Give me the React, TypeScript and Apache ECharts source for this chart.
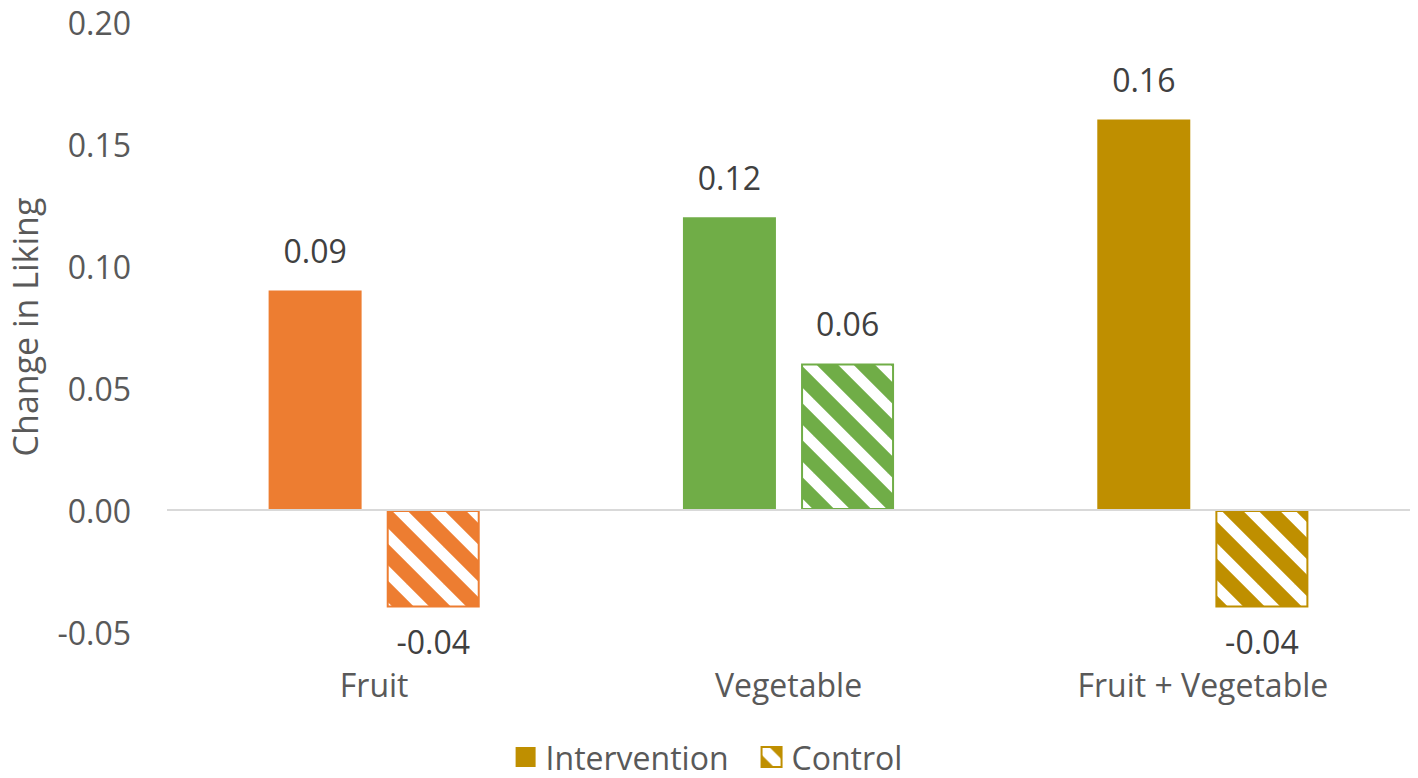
import React, { useEffect, useRef } from "react";
import * as echarts from "echarts";

const categories = ["Fruit", "Vegetable", "Fruit + Vegetable"];
const seriesNames = ["Intervention", "Control"];
const interventionValues = [0.09, 0.12, 0.16];
const controlValues = [-0.04, 0.06, -0.04];
const categoryColors = ["#ED7D31", "#70AD47", "#BF8F00"];
const legendColor = "#BF8F00";

const FONT = "'Open Sans', 'Noto Sans', sans-serif";

function hatch(color: string) {
  const P = 37;
  const S = 11;
  const svg =
    `<svg xmlns='http://www.w3.org/2000/svg' width='${P}' height='${P}'>` +
    `<rect width='${P}' height='${P}' fill='${color}'/>` +
    `<g stroke='#ffffff' stroke-width='${S}'>` +
    `<line x1='0' y1='0' x2='${P}' y2='${P}'/>` +
    `<line x1='${-P}' y1='0' x2='${P}' y2='${2 * P}'/>` +
    `<line x1='0' y1='${-P}' x2='${2 * P}' y2='${P}'/>` +
    `</g></svg>`;
  return {
    image: "data:image/svg+xml;charset=utf-8," + encodeURIComponent(svg),
    repeat: "repeat",
    imageWidth: P,
    imageHeight: P,
  } as any;
}

export default function App() {
  const ref = useRef<HTMLDivElement>(null);

  useEffect(() => {
    if (!ref.current) return;
    const chart = echarts.init(ref.current, null, { renderer: "svg" });

    const labelFor = (v: number) => ({
      show: true,
      position: v < 0 ? "bottom" : "top",
      distance: v < 0 ? 21 : 27,
      formatter: (p: any) => Number(p.value).toFixed(2),
      color: "#404040",
      fontSize: 32,
      lineHeight: 26,
      fontFamily: FONT,
    });

    const option: any = {
      animation: false,
      backgroundColor: "#ffffff",
      grid: { left: 167, right: 8, top: 22, bottom: 146, containLabel: false },
      legend: {
        top: 741,
        left: "center",
        padding: 0,
        itemWidth: 20,
        itemHeight: 20,
        itemGap: 32,
        icon: "rect",
        textStyle: {
          color: "#595959",
          fontSize: 32,
          fontFamily: FONT,
          padding: [0, 0, 0, 5],
        },
        data: [
          { name: seriesNames[0], itemStyle: { color: legendColor, borderWidth: 0 } },
          {
            name: seriesNames[1],
            itemStyle: { color: hatch(legendColor), borderColor: legendColor, borderWidth: 2 },
          },
        ],
      },
      xAxis: {
        type: "category",
        data: categories,
        axisLine: { show: false, onZero: false },
        axisTick: { show: false },
        axisLabel: {
          color: "#595959",
          fontSize: 32,
          lineHeight: 26,
          fontFamily: FONT,
          margin: 39,
        },
        splitLine: { show: false },
      },
      yAxis: {
        type: "value",
        min: -0.05,
        max: 0.2,
        interval: 0.05,
        name: "Change in Liking",
        nameLocation: "middle",
        nameGap: 125,
        nameRotate: 90,
        nameTextStyle: {
          color: "#595959",
          fontSize: 34,
          fontFamily: FONT,
        },
        axisLine: { show: false },
        axisTick: { show: false },
        splitLine: { show: false },
        axisLabel: {
          color: "#595959",
          fontSize: 32,
          fontFamily: FONT,
          margin: 36,
          formatter: (v: number) => v.toFixed(2),
        },
      },
      series: [
        {
          name: seriesNames[0],
          type: "bar",
          barWidth: 93,
          barGap: "27%",
          itemStyle: { color: legendColor },
          data: interventionValues.map((v, i) => ({
            value: v,
            itemStyle: { color: categoryColors[i] },
            label: labelFor(v),
          })),
          markLine: {
            silent: true,
            symbol: "none",
            label: { show: false },
            lineStyle: { color: "#d9d9d9", width: 2, type: "solid" },
            data: [{ yAxis: 0 }],
          },
        },
        {
          name: seriesNames[1],
          type: "bar",
          barWidth: 93,
          barGap: "27%",
          itemStyle: { color: hatch(legendColor), borderColor: legendColor, borderWidth: 2 },
          data: controlValues.map((v, i) => ({
            value: v,
            itemStyle: {
              color: hatch(categoryColors[i]),
              borderColor: categoryColors[i],
              borderWidth: 2,
            },
            label: labelFor(v),
          })),
        },
      ],
    };

    chart.setOption(option);
    return () => chart.dispose();
  }, []);

  return <div ref={ref} style={{ width: 1418, height: 778, margin: -8 }} />;
}
